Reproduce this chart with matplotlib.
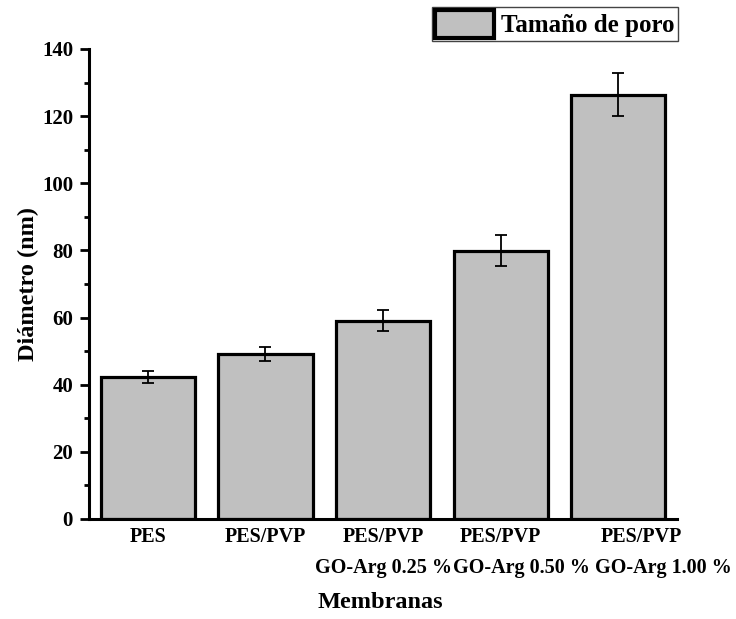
import matplotlib
matplotlib.use("Agg")
import matplotlib.pyplot as plt
import matplotlib.transforms as mtransforms
from matplotlib.ticker import MultipleLocator

plt.rcParams["font.family"] = ["Liberation Serif", "DejaVu Serif"]
plt.rcParams["font.weight"] = "bold"

# Tamaño de poro por membrana
membranas = ["PES", "PES/PVP", "PES/PVP", "PES/PVP", "PES/PVP"]
dopaje = ["", "", "GO-Arg 0.25 %", "GO-Arg 0.50 %", "GO-Arg 1.00 %"]
diametro = [42.3, 49.2, 59.1, 79.9, 126.4]
error = [1.7, 2.0, 3.2, 4.6, 6.3]

# desplazamiento horizontal de cada etiqueta (unidades de barra)
desp_l1 = [0.0, 0.0, 0.0, 0.0, 0.2]
desp_l2 = [0.0, 0.0, 0.0, 0.18, 0.38]

fig = plt.figure(figsize=(7.36, 6.19), dpi=100)
ax = fig.add_axes([0.121, 0.1616, 0.799, 0.7593])

x = range(len(diametro))
ax.bar(x, diametro, width=0.8, color="#c0c0c0", edgecolor="black",
       linewidth=2.3, label="Tamaño de poro", zorder=2)
ax.errorbar(x, diametro, yerr=error, fmt="none", ecolor="black",
            elinewidth=1.3, capsize=4, capthick=1.3, zorder=3)

ax.set_xlim(-0.5, 4.5)
ax.set_ylim(0, 140)
ax.yaxis.set_major_locator(MultipleLocator(20))
ax.yaxis.set_minor_locator(MultipleLocator(10))
ax.tick_params(axis="y", which="major", direction="out", length=6.5, width=2,
               labelsize=15, pad=5)
ax.tick_params(axis="y", which="minor", direction="out", length=3.5, width=2)
ax.set_xticks([])
for s in ["top", "right"]:
    ax.spines[s].set_visible(False)
for s in ["left", "bottom"]:
    ax.spines[s].set_linewidth(2.2)

trans = mtransforms.blended_transform_factory(ax.transData, fig.transFigure)
for i in x:
    ax.text(i + desp_l1[i], 1 - 537 / 619, membranas[i], transform=trans,
            ha="center", va="center", fontsize=14.5, fontweight="bold")
    if dopaje[i]:
        ax.text(i + desp_l2[i], 1 - 568 / 619, dopaje[i], transform=trans,
                ha="center", va="center", fontsize=14.5, fontweight="bold")

fig.text(0.517, 1 - 602 / 619, "Membranas", ha="center", va="center",
         fontsize=17.5, fontweight="bold")
fig.text(0.038, 0.541, "Diámetro (nm)", rotation=90, ha="center", va="center",
         fontsize=17.5, fontweight="bold")

leg = ax.legend(loc="upper right", bbox_to_anchor=(0.921, 0.989),
                bbox_transform=fig.transFigure, prop={"size": 18, "weight": "bold"},
                fancybox=False, framealpha=1, edgecolor="#444444",
                handlelength=2.35, handleheight=1.35, borderpad=0.12,
                handletextpad=0.3, borderaxespad=0)
leg.get_frame().set_linewidth(1.0)
leg.legend_handles[0].set_linewidth(3.0)

fig.savefig("out.png", dpi=100)
